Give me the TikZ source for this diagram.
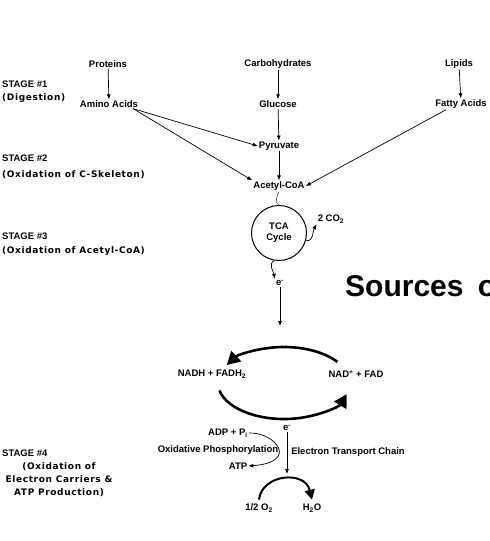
\documentclass[tikz,border=0pt]{standalone}
\usepackage{fontspec}
\setmainfont{Liberation Sans}
\newfontfamily\heavyfont{DejaVu Sans}[LetterSpace=7]
\usetikzlibrary{arrows.meta,positioning,calc}
\tikzset{
    molecule/.style={font=\bfseries\fontsize{9.5}{11}\selectfont, inner sep=1pt},
    stage/.style={anchor=west, inner sep=0pt, font=\bfseries\fontsize{9.5}{11}\selectfont},
    stagetitle/.style={inner sep=0pt, font=\heavyfont\bfseries\fontsize{9}{13}\selectfont},
    flow/.style={draw=black, line width=0.7pt, -{Latex[length=5pt,width=4pt]}},
    tca/.style={draw=black, circle, line width=1pt, minimum size=55pt, align=center,
        font=\bfseries\fontsize{9.5}{11}\selectfont},
    bigcycle/.style={draw=black, line width=2.6pt, -{Triangle[length=13pt,width=14pt]}},
    smallcycle/.style={draw=black, line width=2pt, -{Triangle[length=10pt,width=10pt]}},
}

\begin{document}
\begin{tikzpicture}[x=1pt, y=-1pt]
\clip (0,0) rectangle (490,541);
\useasboundingbox (0,0) rectangle (490,541);

%STAGE LABELS
\node [stage] (s1) at (2,84) {STAGE \#1};
\node [stagetitle, anchor=west] (s1t) at (2,98) {(Digestion)};
\node [stage] (s2) at (2,158) {STAGE \#2};
\node [stagetitle, anchor=west] (s2t) at (2,175) {(Oxidation of C-Skeleton)};
\node [stage] (s3) at (2,236) {STAGE \#3};
\node [stagetitle, anchor=west] (s3t) at (2,251) {(Oxidation of Acetyl-CoA)};
\node [stage] (s4) at (2,453) {STAGE \#4};
\node [stagetitle, align=center] (s4t) at (59,480) {(Oxidation of\\Electron Carriers \&\\ATP Production)};

%STAGE 1
\node [molecule] (proteins) at (108,64) {Proteins};
\node [molecule] (carbs) at (278,64) {Carbohydrates};
\node [molecule] (lipids) at (459,64) {Lipids};
\node [molecule] (amino) at (109,104) {Amino Acids};
\node [molecule] (glucose) at (278,104) {Glucose};
\node [molecule] (fatty) at (461,104) {Fatty Acids};
\draw [flow] (proteins) -- (amino);
\draw [flow] (carbs) -- (glucose);
\draw [flow] (lipids) -- (fatty);

%STAGE 2
\node [molecule] (pyruvate) at (279,146) {Pyruvate};
\node [molecule] (acetyl) at (279,186) {Acetyl-CoA};
\draw [flow] (glucose) -- (pyruvate);
\draw [flow] (pyruvate) -- (acetyl);
\draw [flow] ([xshift=-6pt]amino.south east) -- (pyruvate.west);
\draw [flow] ([xshift=-6pt]amino.south east) -- (acetyl.north west);
\draw [flow] ([xshift=12pt]fatty.south west) -- (acetyl.east);

%STAGE 3
\node [tca] (tca) at (279,233) {TCA\\Cycle};
\node [molecule] (co2) at (331,219) {2 CO\textsubscript{2}};
\node [molecule] (e1) at (280,283) {e\textsuperscript{-}};
\draw (acetyl.south) to[out=-115, in=160] (tca.north);
\draw [flow] (tca.-15) to[out=-20, in=-120] (co2.south west);
\draw [flow] (tca.-100) to[out=-150, in=100] (e1.north west);
\node [anchor=west, inner sep=0pt, font=\bfseries\fontsize{30}{31}\selectfont] (sources) at (345,286) {Sources\hspace{6pt} o};

%ELECTRON CARRIERS
\coordinate (etop) at (280,326);
\coordinate (cyc) at (284,383);
\draw [flow] (e1.south) -- (etop);
\node [molecule] (nadh) at (212,374) {NADH + FADH\textsubscript{2}};
\node [molecule] (nad) at (356,374) {NAD\textsuperscript{+} + FAD};
\draw [bigcycle] ($(cyc)+(-36:66 and 36)$) arc[start angle=-36, end angle=-150, x radius=66, y radius=36];
\draw [bigcycle] ($(cyc)+(168:66 and 36)$) arc[start angle=168, end angle=18, x radius=66, y radius=36];

%STAGE 4
\node [molecule] (e2) at (287,428) {e\textsuperscript{-}};
\coordinate (eend) at (287,474);
\node [molecule] (adp) at (228,433) {ADP + P\textsubscript{i}};
\node [molecule] (oxphos) at (218,450) {Oxidative Phosphorylation};
\node [molecule] (atp) at (238,466) {ATP};
\node [molecule] (etc) at (348,452) {Electron Transport Chain};
\node [molecule] (o2) at (259,508) {1/2 O\textsubscript{2}};
\node [molecule] (h2o) at (312,508) {H\textsubscript{2}O};
\draw [flow] (e2.south) -- (eend);
\draw [flow] (adp.east) .. controls (275,432) and (300,462) .. (atp.east);
\draw [smallcycle] ([yshift=3pt]o2.north) .. controls (262,474) and (305,470) .. ([yshift=3pt]h2o.north);
\end{tikzpicture}
\end{document}
